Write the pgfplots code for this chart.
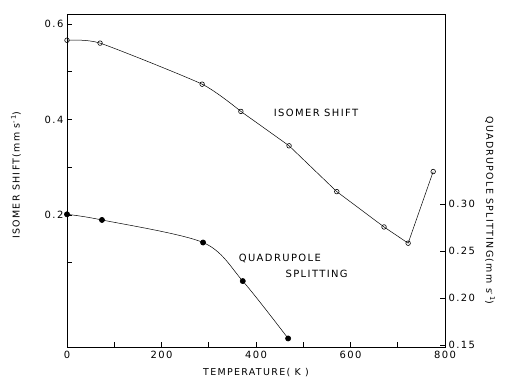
\documentclass[border=0pt]{standalone}
\usepackage{fontspec}
\setmainfont{DejaVu Sans}[LetterSpace=14]
\usepackage{pgfplots}
\pgfplotsset{compat=1.18}
\usepackage{pgfplotstable}

\pgfplotstableread{
T y
0 0.566
70 0.560
286 0.474
368 0.417
470 0.345
571 0.249
671 0.175
722 0.141
775 0.291
}\isomer

\pgfplotstableread{
T y
0 0.289
74 0.283
288 0.259
372 0.218
468 0.157
}\quad

\begin{document}
\begin{tikzpicture}
\pgfplotsset{
  every axis/.append style={
    scale only axis, width=378bp, height=333bp,
    xmin=0, xmax=800,
    line width=0.6pt,
    tick style={line width=0.6pt, black},
    major tick length=5bp,
    tick label style={font=\fontsize{10}{11}\selectfont},
    label style={font=\fontsize{9.5}{11}\selectfont},
  }
}
\begin{axis}[
  ymin=-0.0764, ymax=0.621,
  xtick={0,100,...,800},
  xticklabels={0,,200,,400,,600,,800},
  ytick={0.1,0.2,0.3,0.4,0.5,0.6},
  yticklabels={,0.2,,0.4,,0.6},
  xtick pos=bottom, ytick pos=left,
  tick align=inside,
  xlabel={TEMPERATURE( K )},
  xlabel style={at={(axis description cs:0.5,-0.078)}, anchor=center},
  ylabel={ISOMER SHIFT(mm s\textsuperscript{-1})},
  ylabel style={at={(axis description cs:-0.135,0.516)}, anchor=center, rotate=0},
]
\addplot[black, line width=0.5pt, smooth, tension=0.35, mark=none, restrict x to domain=0:368] table[x=T,y=y] {\isomer};
\addplot[black, line width=0.5pt, sharp plot, mark=none, restrict x to domain=368:800] table[x=T,y=y] {\isomer};
\addplot[only marks, mark=o, mark size=2.3bp, mark options={line width=0.6pt, fill=white}] table[x=T,y=y] {\isomer};
\node[anchor=center, font=\fontsize{10}{11}\selectfont] at (axis cs:527,0.414) {ISOMER SHIFT};
\node[anchor=west, font=\fontsize{10}{11}\selectfont] at (axis cs:356,0.110) {QUADRUPOLE};
\node[anchor=west, font=\fontsize{10}{11}\selectfont] at (axis cs:455,0.0764) {SPLITTING};
\end{axis}
\begin{axis}[
  ymin=0.1479, ymax=0.502,
  axis y line*=right, axis x line=none,
  ytick={0.15,0.20,0.25,0.30},
  yticklabels={0.15,0.20,0.25,0.30},
  tick align=inside,
  ylabel={QUADRUPOLE SPLITTING(mm s\textsuperscript{-1})},
  ylabel style={at={(axis description cs:1.119,0.41)}, anchor=center, rotate=180},
]
\addplot[black, line width=0.5pt, smooth, tension=0.5, mark=none] table[x=T,y=y] {\quad};
\addplot[only marks, mark=*, mark size=2.6bp, black] table[x=T,y=y] {\quad};
\end{axis}
\pgfresetboundingbox
\path (-67bp,-42bp) rectangle (442bp,347bp);
\end{tikzpicture}
\end{document}
